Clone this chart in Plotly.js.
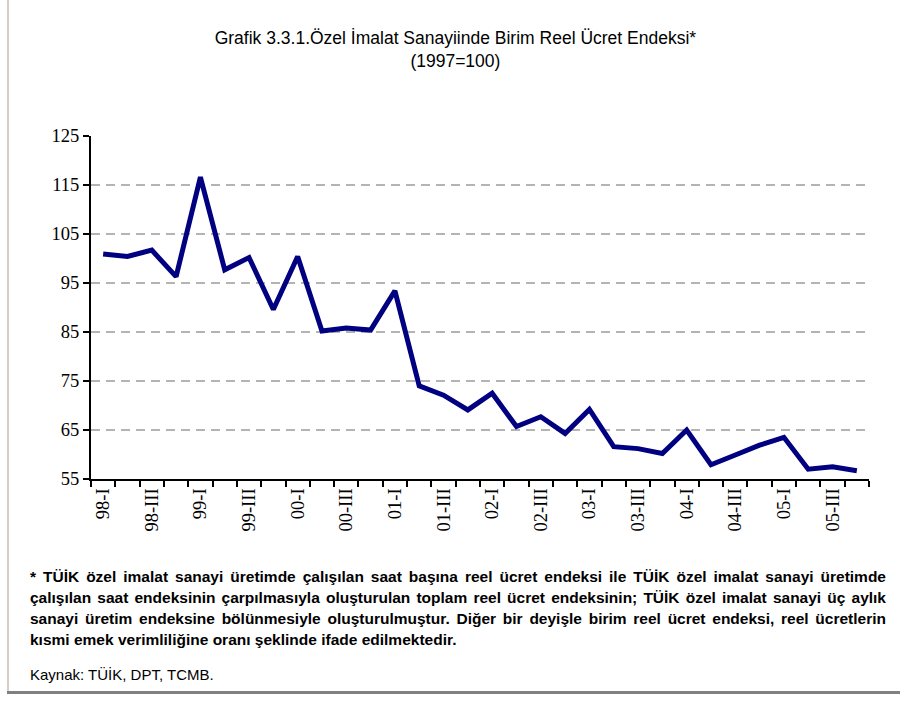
<!DOCTYPE html>
<html>
<head>
<meta charset="utf-8">
<script src="https://cdn.plot.ly/plotly-3.0.1.min.js"></script>
<style>
  html, body { margin: 0; padding: 0; background: #fff; }
  #wrap { position: relative; width: 900px; height: 702px; overflow: hidden; }
  #chart { position: absolute; left: 0; top: 0; width: 900px; height: 702px; }
  #lborder { position: absolute; left: 7px; top: 0; width: 2px; height: 692px; background: #d4d0c8; }
  #bborder { position: absolute; left: 7px; top: 691px; width: 893px; height: 3px; background: #808080; }
  #note { position: absolute; left: 30px; top: 566px; width: 856px; font-family: "Liberation Sans", Arial, sans-serif; font-weight: bold; font-size: 15.5px; line-height: 21px; color: #000; }
  #note .j { text-align: justify; text-align-last: justify; white-space: nowrap; }
  #src { position: absolute; left: 30px; top: 666px; font-family: "Liberation Sans", Arial, sans-serif; font-size: 15px; color: #000; }
</style>
</head>
<body>
<div id="wrap">
  <div id="chart"></div>
  <div id="lborder"></div>
  <div id="bborder"></div>
  <div id="note">
    <div class="j">* TÜİK özel imalat sanayi üretimde çalışılan saat başına reel ücret endeksi ile TÜİK özel imalat sanayi üretimde</div>
    <div class="j">çalışılan saat endeksinin çarpılmasıyla oluşturulan toplam reel ücret endeksinin; TÜİK özel imalat sanayi üç aylık</div>
    <div class="j">sanayi üretim endeksine bölünmesiyle oluşturulmuştur. Diğer bir deyişle birim reel ücret endeksi, reel ücretlerin</div>
    <div>kısmi emek verimliliğine oranı şeklinde ifade edilmektedir.</div>
  </div>
  <div id="src">Kaynak: TÜİK, DPT, TCMB.</div>
</div>
<script>
const quarters = [
  "98-I","98-II","98-III","98-IV",
  "99-I","99-II","99-III","99-IV",
  "00-I","00-II","00-III","00-IV",
  "01-I","01-II","01-III","01-IV",
  "02-I","02-II","02-III","02-IV",
  "03-I","03-II","03-III","03-IV",
  "04-I","04-II","04-III","04-IV",
  "05-I","05-II","05-III","05-IV"
];
const indexValues = [
  100.9, 100.4, 101.7, 96.3,
  116.6, 97.7, 100.2, 89.6,
  100.4, 85.2, 85.8, 85.4,
  93.4, 74.0, 72.1, 69.1,
  72.5, 65.7, 67.7, 64.3,
  69.2, 61.6, 61.2, 60.2,
  65.0, 57.9, 59.9, 61.9,
  63.5, 57.0, 57.5, 56.7
];
const shownLabels = quarters.map((q, i) => (i % 2 === 0 ? q : ""));
const yTicks = [55, 65, 75, 85, 95, 105, 115, 125];

const trace = {
  x: quarters,
  y: indexValues,
  type: "scatter",
  mode: "lines",
  line: { color: "#000080", width: 5 },
  hoverinfo: "x+y"
};

const layout = {
  width: 900,
  height: 702,
  paper_bgcolor: "#ffffff",
  plot_bgcolor: "#ffffff",
  showlegend: false,
  margin: { l: 91, r: 31, t: 136, b: 223 },
  title: {
    text: "Grafik 3.3.1.Özel İmalat Sanayiinde Birim Reel Ücret Endeksi*<br>(1997=100)",
    font: { family: "Liberation Sans, Arial, sans-serif", size: 17.5, color: "#000" },
    x: 0.506, xanchor: "center",
    y: 0.937, yanchor: "top"
  },
  xaxis: {
    type: "category",
    categoryorder: "array",
    categoryarray: quarters,
    tickmode: "array",
    tickvals: quarters,
    ticktext: shownLabels,
    tickson: "boundaries",
    ticks: "outside",
    ticklen: 6,
    tickwidth: 2,
    tickcolor: "#000",
    tickangle: -90,
    tickfont: { family: "Liberation Serif, Times New Roman, serif", size: 18.5, color: "#000" },
    showline: true,
    linecolor: "#000",
    linewidth: 2,
    showgrid: false,
    zeroline: false,
    range: [-0.5, 31.5]
  },
  yaxis: {
    range: [55, 125],
    tickmode: "array",
    tickvals: yTicks,
    ticks: "outside",
    ticklen: 6,
    tickwidth: 2,
    tickcolor: "#000",
    tickfont: { family: "Liberation Serif, Times New Roman, serif", size: 18.5, color: "#000" },
    showline: true,
    linecolor: "#000",
    linewidth: 2,
    showgrid: true,
    gridcolor: "#b4b4b4",
    gridwidth: 1.5,
    griddash: "9px,6px",
    zeroline: false
  }
};

Plotly.newPlot("chart", [trace], layout, { displayModeBar: false, staticPlot: true });
</script>
</body>
</html>
